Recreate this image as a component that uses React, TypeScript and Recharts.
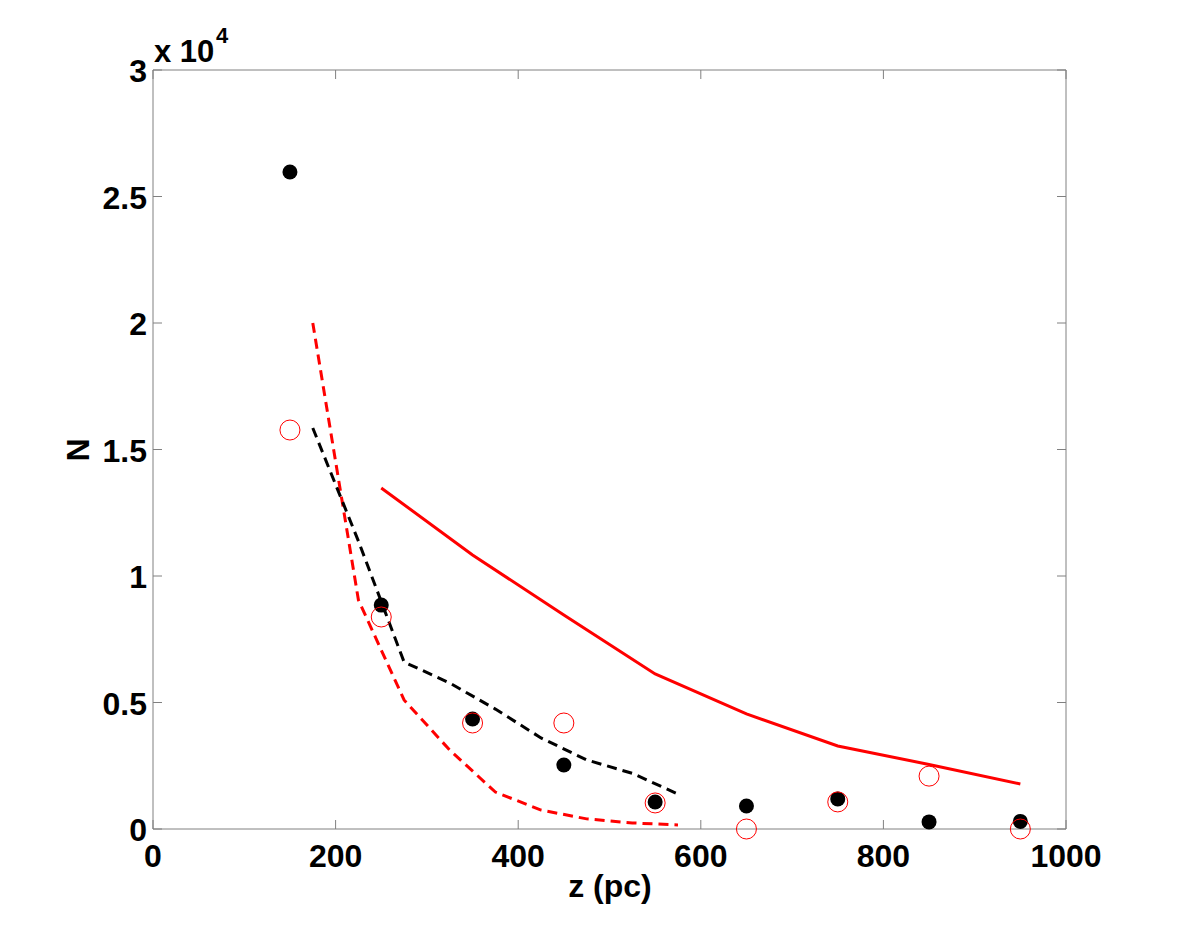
import { ComposedChart, Line, Scatter, XAxis, YAxis } from 'recharts'

// measured star counts per bin (filled black) and model counts (open red)
const binCenters = [150, 250, 350, 450, 550, 650, 750, 850, 950]
const observedN = [25970, 8850, 4350, 2530, 1070, 910, 1190, 280, 300]
const modelN = [15770, 8380, 4190, 4190, 1030, 0, 1070, 2090, 0]

// solid red curve
const solidZ = [250, 350, 450, 550, 650, 750, 850, 950]
const solidN = [13480, 10830, 8460, 6130, 4550, 3280, 2550, 1780]

// dashed curves
const dashZ = [175, 225, 275, 325, 375, 425, 475, 525, 575]
const blackDashN = [15850, 11380, 6600, 5770, 4740, 3600, 2730, 2200, 1380]
const redDashN = [20000, 9050, 5100, 3120, 1460, 750, 400, 240, 160]

const xTicks = [0, 200, 400, 600, 800, 1000]
const yTicks = [0, 5000, 10000, 15000, 20000, 25000, 30000]

const FONT = '"Liberation Sans", Arial, Helvetica, sans-serif'
const AXIS = '#808080'
const W = 1179
const H = 934

const observed = binCenters.map((z, i) => ({ z, n: observedN[i] }))
const model = binCenters.map((z, i) => ({ z, n: modelN[i] }))
const solid = solidZ.map((z, i) => ({ z, n: solidN[i] }))
const blackDash = dashZ.map((z, i) => ({ z, n: blackDashN[i] }))
const redDash = dashZ.map((z, i) => ({ z, n: redDashN[i] }))

function BottomTick({ x, y, payload }: any) {
  return (
    <g>
      <line x1={x} x2={x} y1={y} y2={y - 9} stroke={AXIS} />
      <text x={x} y={y + 38} textAnchor="middle" fontFamily={FONT} fontWeight="bold" fontSize={32} fill="#000">
        {payload.value}
      </text>
    </g>
  )
}

function LeftTick({ x, y, payload }: any) {
  return (
    <g>
      <line x1={x} x2={x + 9} y1={y} y2={y} stroke={AXIS} />
      <text x={x - 6} y={y + 12} textAnchor="end" fontFamily={FONT} fontWeight="bold" fontSize={32} fill="#000">
        {String(payload.value / 10000)}
      </text>
    </g>
  )
}

function TopTick({ x, y }: any) {
  return <line x1={x} x2={x} y1={y} y2={y + 9} stroke={AXIS} />
}

function RightTick({ x, y }: any) {
  return <line x1={x} x2={x - 9} y1={y} y2={y} stroke={AXIS} />
}

const dot = ({ cx, cy }: any) => <circle cx={cx} cy={cy} r={7.5} fill="#000" />
const ring = ({ cx, cy }: any) => <circle cx={cx} cy={cy} r={10} fill="none" stroke="#ff0000" strokeWidth={1} />

export default function App() {
  return (
    <div style={{ position: 'absolute', left: 0, top: 0, width: W, height: H, background: '#fff' }}>
      <ComposedChart width={W} height={H} margin={{ top: 69, right: 112, bottom: 0, left: 0 }}>
        <XAxis
          dataKey="z"
          type="number"
          domain={[0, 1000]}
          ticks={xTicks}
          height={105}
          axisLine={{ stroke: AXIS }}
          tickLine={false}
          tickSize={0}
          tickMargin={0}
          tick={<BottomTick />}
        />
        <XAxis
          xAxisId="top"
          orientation="top"
          dataKey="z"
          type="number"
          domain={[0, 1000]}
          ticks={xTicks}
          height={1}
          axisLine={{ stroke: AXIS }}
          tickLine={false}
          tickSize={0}
          tickMargin={0}
          tick={<TopTick />}
        />
        <YAxis
          dataKey="n"
          type="number"
          domain={[0, 30000]}
          ticks={yTicks}
          width={153}
          axisLine={{ stroke: AXIS }}
          tickLine={false}
          tickSize={0}
          tickMargin={0}
          tick={<LeftTick />}
        />
        <YAxis
          yAxisId="right"
          orientation="right"
          dataKey="n"
          type="number"
          domain={[0, 30000]}
          ticks={yTicks}
          width={1}
          axisLine={{ stroke: AXIS }}
          tickLine={false}
          tickSize={0}
          tickMargin={0}
          tick={<RightTick />}
        />
        <Line xAxisId="top" yAxisId="right" data={solid} dataKey="n" stroke="none" dot={false} legendType="none" isAnimationActive={false} />
        <Line data={solid} dataKey="n" type="linear" stroke="#ff0000" strokeWidth={3} dot={false} isAnimationActive={false} />
        <Line data={redDash} dataKey="n" type="linear" stroke="#ff0000" strokeWidth={3} strokeDasharray="10 6" dot={false} isAnimationActive={false} />
        <Line data={blackDash} dataKey="n" type="linear" stroke="#000" strokeWidth={3} strokeDasharray="10 6" dot={false} isAnimationActive={false} />
        <Scatter data={observed} dataKey="n" shape={dot} isAnimationActive={false} />
        <Scatter data={model} dataKey="n" shape={ring} isAnimationActive={false} />
      </ComposedChart>
      <svg width={W} height={H} style={{ position: 'absolute', left: 0, top: 0, pointerEvents: 'none' }}>
        <text x={154} y={62} fontFamily={FONT} fontWeight="bold" fontSize={31} fill="#000">x 10</text>
        <text x={216} y={43} fontFamily={FONT} fontWeight="bold" fontSize={22} fill="#000">4</text>
        <text x={610} y={897} textAnchor="middle" fontFamily={FONT} fontWeight="bold" fontSize={32} fill="#000">z (pc)</text>
        <text x={89} y={450} textAnchor="middle" transform="rotate(-90 89 450)" fontFamily={FONT} fontWeight="bold" fontSize={32} fill="#000">N</text>
      </svg>
    </div>
  )
}
